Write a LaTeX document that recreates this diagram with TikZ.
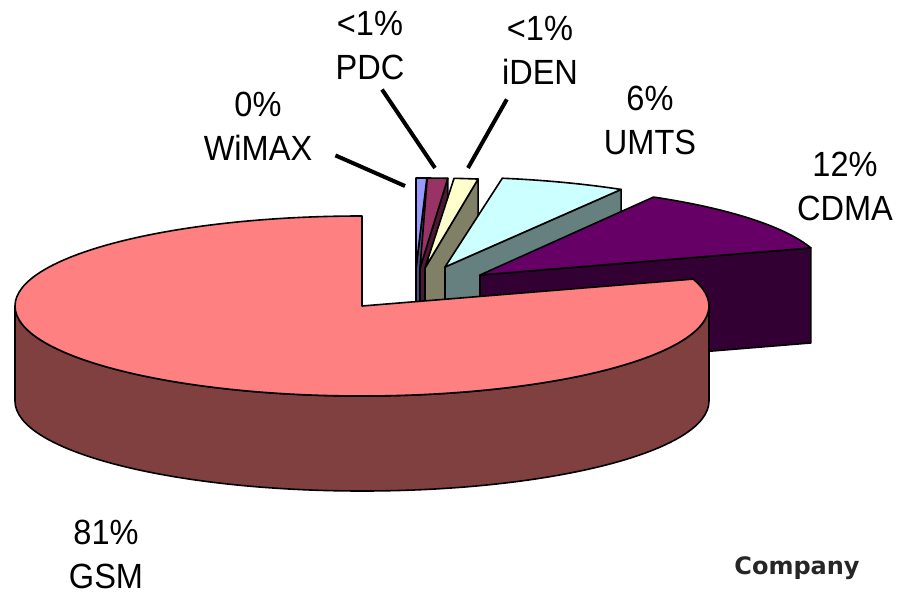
\documentclass[tikz,border=0pt]{standalone}
\usepackage{fontspec}
\setmainfont{Liberation Sans}
\newfontfamily\pctfont[FakeStretch=0.93]{Liberation Sans}
\newfontfamily\tagfont{DejaVu Sans}
\definecolor{wimaxtop}{HTML}{9999FF}
\definecolor{wimaxside}{HTML}{4C4C80}
\definecolor{pdctop}{HTML}{993366}
\definecolor{pdcside}{HTML}{4C1933}
\definecolor{identop}{HTML}{FFFFCC}
\definecolor{idenside}{HTML}{808066}
\definecolor{umtstop}{HTML}{CCFFFF}
\definecolor{umtsside}{HTML}{668080}
\definecolor{cdmatop}{HTML}{660066}
\definecolor{cdmaside}{HTML}{330033}
\definecolor{gsmtop}{HTML}{FF8080}
\definecolor{gsmside}{HTML}{804040}
\begin{document}
\begin{tikzpicture}[x=1pt,y=1pt,
        edge/.style={draw=black, line width=1.6pt, line join=round},
        leader/.style={line width=4pt},
        pct/.style={font=\pctfont\fontsize{35}{44}\selectfont, align=center, inner sep=2pt}]
        \def\rx{347}
        \def\ry{90}
        \def\depth{95}
        \useasboundingbox (0,0) rectangle (899,595);
        \coordinate (WiMAX) at (416,327);
        \coordinate (PDC) at (420,327);
        \coordinate (iDEN) at (425,327);
        \coordinate (UMTS) at (445,328);
        \coordinate (CDMA) at (480,320);
        \coordinate (GSM) at (362,289);
        % WiMAX
        \filldraw[fill=wimaxside, edge] (WiMAX) -- ++(88.2:{\rx} and {\ry}) -- ++(0,-\depth) -- ++(268.2:{\rx} and {\ry}) -- cycle;
        \filldraw[fill=wimaxtop, edge] (WiMAX) -- ++(88.2:{\rx} and {\ry}) arc[start angle=88.2, end angle=90, x radius=\rx, y radius=\ry] -- cycle;
        % PDC
        \filldraw[fill=pdcside, edge] (PDC) -- ++(85.4:{\rx} and {\ry}) -- ++(0,-\depth) -- ++(265.4:{\rx} and {\ry}) -- cycle;
        \filldraw[fill=pdctop, edge] (PDC) -- ++(85.4:{\rx} and {\ry}) arc[start angle=85.4, end angle=88.8, x radius=\rx, y radius=\ry] -- cycle;
        % iDEN
        \filldraw[fill=idenside, edge] (iDEN) -- ++(81.2:{\rx} and {\ry}) -- ++(0,-\depth) -- ++(261.2:{\rx} and {\ry}) -- cycle;
        \filldraw[fill=identop, edge] (iDEN) -- ++(81.2:{\rx} and {\ry}) arc[start angle=81.2, end angle=85.2, x radius=\rx, y radius=\ry] -- cycle;
        % UMTS
        \filldraw[fill=umtsside, edge] (UMTS) -- ++(59.5:{\rx} and {\ry}) -- ++(0,-\depth) -- ++(239.5:{\rx} and {\ry}) -- cycle;
        \filldraw[fill=umtstop, edge] (UMTS) -- ++(59.5:{\rx} and {\ry}) arc[start angle=59.5, end angle=80.5, x radius=\rx, y radius=\ry] -- cycle;
        % CDMA
        \filldraw[fill=cdmaside, edge] (CDMA) -- ++(17.5:{\rx} and {\ry}) -- ++(0,-\depth) -- ++(197.5:{\rx} and {\ry}) -- cycle;
        \filldraw[fill=cdmatop, edge] (CDMA) -- ++(17.5:{\rx} and {\ry}) arc[start angle=17.5, end angle=60, x radius=\rx, y radius=\ry] -- cycle;
        % GSM
        \filldraw[fill=gsmside, edge] ([shift={(180:{\rx} and {\ry})}]GSM) arc[start angle=180, end angle=360, x radius=\rx, y radius=\ry] -- ++(0,-\depth) arc[start angle=360, end angle=180, x radius=\rx, y radius=\ry] -- cycle;
        \filldraw[fill=gsmtop, edge] (GSM) -- ++(90:{\rx} and {\ry}) arc[start angle=90, end angle=377.4, x radius=\rx, y radius=\ry] -- cycle;
        % labels
        \node[pct] (lbl-wimax) at (258,469) {0\%\\WiMAX};
        \node[pct] (lbl-pdc) at (370,549) {<1\%\\PDC};
        \node[pct] (lbl-iden) at (540,545) {<1\%\\iDEN};
        \node[pct] (lbl-umts) at (650,475) {6\%\\UMTS};
        \node[pct] (lbl-cdma) at (845,409) {12\%\\CDMA};
        \node[pct] (lbl-gsm) at (106,41) {81\%\\GSM};
        \node[font=\tagfont\bfseries\fontsize{24}{28}\selectfont, text=black!85] (company) at (797,27) {Company};
        \coordinate (wimax-tip) at (405,409);
        \coordinate (pdc-tip) at (435,427);
        \coordinate (iden-tip) at (468,427);
        \draw[leader] ([shift={(21,7)}]lbl-wimax.south east) -- (wimax-tip);
        \draw[leader] ([shift={(12,-7)}]lbl-pdc.south) -- (pdc-tip);
        \draw[leader] ([shift={(7,-13)}]lbl-iden.south west) -- (iden-tip);
    \end{tikzpicture}
\end{document}
